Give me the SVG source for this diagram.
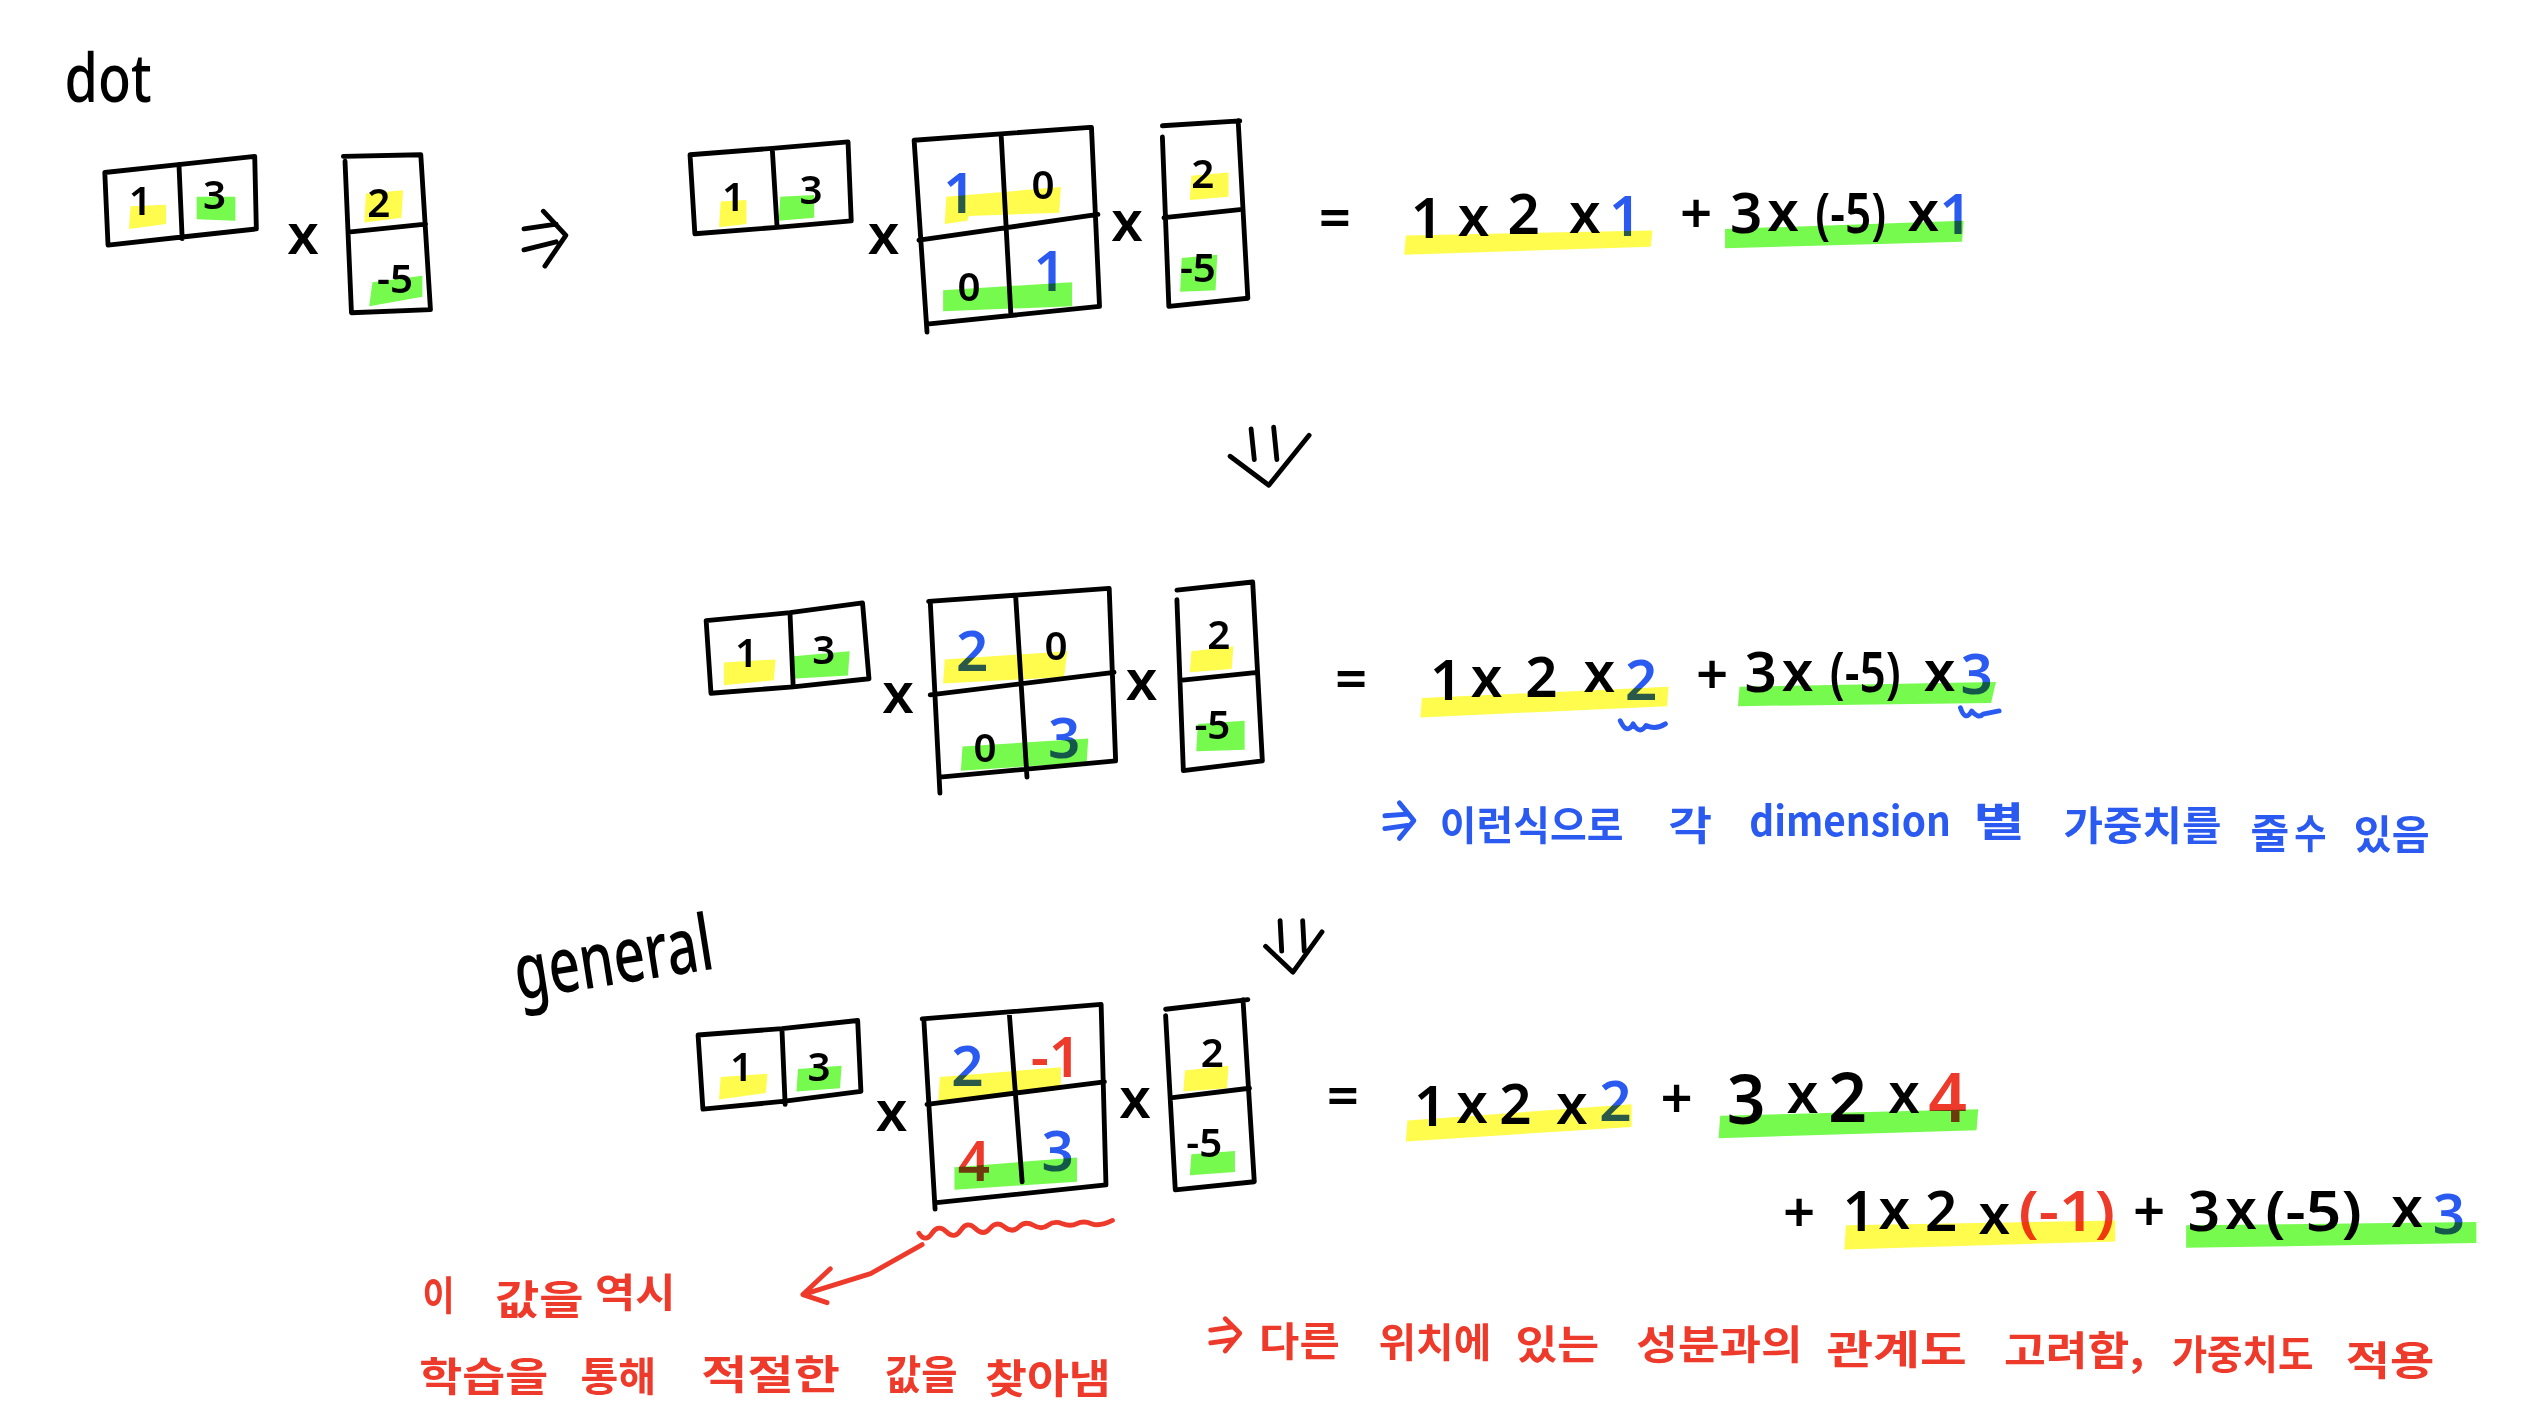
<svg xmlns="http://www.w3.org/2000/svg" width="2528" height="1420" viewBox="0 0 2528 1420">
<style>
.ln{fill:none;stroke:#000;stroke-width:3;stroke-linecap:round;stroke-linejoin:round}
.y{fill:#fffc4d;mix-blend-mode:multiply}
.g{fill:#76fa4d;mix-blend-mode:multiply}
text{font-family:"Noto Sans","Noto Sans CJK KR",sans-serif;text-anchor:middle;dominant-baseline:central;font-weight:600;fill:#000}
.m{font-size:25px}
.e{font-size:35px}
.b{fill:#2a5af0}
.r{fill:#ee3a2a}
.k{font-size:25px;font-weight:700;text-anchor:start;font-family:"Noto Sans CJK KR","Noto Sans",sans-serif}
.arb{fill:none;stroke:#2a5af0;stroke-width:3;stroke-linecap:round;stroke-linejoin:round}
.arr{fill:none;stroke:#ee3a2a;stroke-width:3;stroke-linecap:round;stroke-linejoin:round}
</style>
<rect width="2528" height="1420" fill="#fff"/>
<g transform="scale(1.6122)">
<text id="label-dot" x="67" y="47" textLength="54" lengthAdjust="spacingAndGlyphs" style="font-size:42px;font-weight:500">dot</text>
<text id="label-general" x="380" y="592" transform="rotate(-9 380 592)" textLength="124" lengthAdjust="spacingAndGlyphs" style="font-size:48px;font-weight:500">general</text>

<g id="vec-1">
<path class="ln" d="M65 107L112 102L158 97L159 142L113 147L67 152ZM111 102L113 148"/>
<text class="m" x="87" y="124">1</text><text class="m" x="133" y="120">3</text>
<path class="y" d="M81 128L103 127L103 139L80 142Z"/><path class="g" d="M122 122L146 122L146 137L122 136Z"/>
</g>
<text id="times-1a" class="e" x="188" y="144">x</text>
<g id="col-1">
<path class="ln" d="M213 97L261 96L267 192L218 194L214 100M216 144L264 139"/>
<text class="m" x="235" y="125">2</text><text class="m" x="245" y="172">-5</text>
<path class="y" d="M227 120L250 118L249 135L226 138Z"/><path class="g" d="M231 175L262 171L262 184L229 190Z"/>
</g>

<g id="vec-2">
<path class="ln" d="M428 96L479 92L526 88L528 137L482 141L431 145ZM479 92L482 141"/>
<text class="m" x="455" y="121">1</text><text class="m" x="503" y="117">3</text>
<path class="y" d="M447 125L463 124L463 139L446 141Z"/><path class="g" d="M484 122L505 121L505 135L483 137Z"/>
</g>
<text id="times-2a" class="e" x="548" y="144">x</text>
<g id="mat-2">
<path class="ln" d="M567 87L676 79M677 79L682 190L575 201M567 87L575 206M570 149L681 133M621 84L627 195"/>
<text class="e b" x="595" y="119">1</text><text class="m" x="647" y="114">0</text><text class="m" x="601" y="177">0</text><text class="e b" x="651" y="167">1</text>
<path class="y" d="M587 122L658 116L657 132L601 134L600 137L586 139Z"/><path class="g" d="M585 180L665 175L665 190L585 193Z"/>
</g>
<text id="times-2b" class="e" x="699" y="136">x</text>
<g id="col-2">
<path class="ln" d="M721 78L769 75M721 85L725 190L774 185L768 75M722 135L769 130"/>
<text class="m" x="746" y="107">2</text><text class="m" x="743" y="165">-5</text>
<path class="y" d="M739 109L762 107L762 122L738 124Z"/><path class="g" d="M733 160L755 158L754 180L732 181Z"/>
</g>
<text id="eq-1-equals" class="e" x="828" y="134">=</text>
<g id="eq-1">
<text class="e" x="885" y="134">1</text><text class="e" x="914" y="133">x</text><text class="e" x="945" y="132">2</text><text class="e" x="983" y="131">x</text><text class="e b" x="1008" y="133">1</text>
<text class="e" x="1052" y="131">+</text><text class="e" x="1083" y="131">3</text><text class="e" x="1106" y="130">x</text><text class="e" x="1148" y="131" textLength="44" lengthAdjust="spacingAndGlyphs">(-5)</text><text class="e" x="1193" y="130">x</text><text class="e b" x="1213" y="132">1</text>
<path class="y" d="M872 146L1025 143L1024 153L871 158Z"/><path class="g" d="M1070 142L1218 137L1217 150L1070 154Z"/>
</g>

<g id="vec-3">
<path class="ln" d="M438 385L490 380L535 374L539 421L492 426L441 430ZM490 380L492 426"/>
<text class="m" x="463" y="404">1</text><text class="m" x="511" y="402">3</text>
<path class="y" d="M449 411L481 409L480 422L449 425Z"/><path class="g" d="M492 407L527 404L526 419L491 421Z"/>
</g>
<text id="times-3a" class="e" x="557" y="429">x</text>
<g id="mat-3">
<path class="ln" d="M576 373L688 365M688 365L692 472L583 482M577 373L583 492M577 431L691 417M630 370L637 482"/>
<text class="e b" x="603" y="403">2</text><text class="m" x="655" y="400">0</text><text class="m" x="611" y="463">0</text><text class="e b" x="660" y="457">3</text>
<path class="y" d="M586 409L662 404L660 420L585 424Z"/><path class="g" d="M597 463L675 458L674 473L596 478Z"/>
</g>
<text id="times-3b" class="e" x="708" y="421">x</text>
<g id="col-3">
<path class="ln" d="M730 366L777 361M730 372L734 478L783 472L777 361M732 422L780 417"/>
<text class="m" x="756" y="393">2</text><text class="m" x="752" y="449">-5</text>
<path class="y" d="M739 404L765 401L764 415L738 417Z"/><path class="g" d="M743 449L772 447L772 465L742 466Z"/>
</g>
<text id="eq-2-equals" class="e" x="838" y="420">=</text>
<g id="eq-2">
<text class="e" x="897" y="421">1</text><text class="e" x="922" y="419">x</text><text class="e" x="956" y="419">2</text><text class="e" x="992" y="416">x</text><text class="e b" x="1018" y="421">2</text>
<text class="e" x="1062" y="417">+</text><text class="e" x="1092" y="416">3</text><text class="e" x="1115" y="415">x</text><text class="e" x="1157" y="416" textLength="44" lengthAdjust="spacingAndGlyphs">(-5)</text><text class="e" x="1203" y="415">x</text><text class="e b" x="1226" y="417">3</text>
<path class="y" d="M882 433L1035 426L1034 438L881 445Z"/><path class="g" d="M1079 426L1238 423L1235 436L1078 438Z"/>
<path class="arb" d="M1005 447Q1009 456 1013 449Q1017 456 1021 450Q1027 453 1033 449M1216 439Q1219 448 1223 441Q1227 446 1230 443L1240 441"/>
</g>
<g id="note-blue">
<path class="arb" d="M859 506L873 505M859 514L873 512M868 498L877 509L868 520"/>
<text class="k b" x="893" y="510" textLength="114" lengthAdjust="spacingAndGlyphs">이런식으로</text>
<text class="k b" x="1035" y="510" textLength="27" lengthAdjust="spacingAndGlyphs">각</text>
<text class="k b" x="1085" y="508" textLength="125" lengthAdjust="spacingAndGlyphs">dimension</text>
<text class="k b" x="1224" y="508" textLength="32" lengthAdjust="spacingAndGlyphs">별</text>
<text class="k b" x="1280" y="510" textLength="98" lengthAdjust="spacingAndGlyphs">가중치를</text>
<text class="k b" x="1396" y="515" textLength="24" lengthAdjust="spacingAndGlyphs">줄</text>
<text class="k b" x="1423" y="515" textLength="20" lengthAdjust="spacingAndGlyphs">수</text>
<text class="k b" x="1460" y="516" textLength="47" lengthAdjust="spacingAndGlyphs">있음</text>
</g>

<g id="vec-4">
<path class="ln" d="M433 642L485 638L532 633L534 677L487 683L436 688ZM485 638L487 685"/>
<text class="m" x="460" y="661">1</text><text class="m" x="508" y="661">3</text>
<path class="y" d="M447 668L476 666L475 678L446 682Z"/><path class="g" d="M495 663L522 661L521 675L494 677Z"/>
</g>
<text id="times-4a" class="e" x="553" y="688">x</text>
<g id="mat-4">
<path class="ln" d="M572 632L683 623M683 623L686 735L581 746M573 632L580 750M575 685L685 671M626 628L634 733"/>
<text class="e b" x="600" y="660">2</text><text class="e r" x="655" y="655">-1</text><text class="e r" x="604" y="719">4</text><text class="e b" x="656" y="713">3</text>
<path class="y" d="M583 668L658 662L658 676L582 684Z"/><path class="g" d="M592 724L668 718L668 733L592 738Z"/>
</g>
<text id="times-4b" class="e" x="704" y="680">x</text>
<g id="col-4">
<path class="ln" d="M723 626L774 620M723 630L729 738L778 733L771 620M726 681L775 675"/>
<text class="m" x="752" y="652">2</text><text class="m" x="747" y="708">-5</text>
<path class="y" d="M735 664L762 661L761 675L734 677Z"/><path class="g" d="M739 716L766 714L766 727L738 729Z"/>
</g>
<text id="eq-3-equals" class="e" x="833" y="679">=</text>
<g id="eq-3">
<text class="e" x="887" y="685">1</text><text class="e" x="913" y="683">x</text><text class="e" x="940" y="684">2</text><text class="e" x="975" y="684">x</text><text class="e b" x="1002" y="682">2</text>
<text class="e" x="1040" y="680">+</text><text class="e" x="1083" y="681" style="font-size:42px">3</text><text class="e" x="1118" y="677">x</text><text class="e" x="1146" y="680" style="font-size:42px">2</text><text class="e" x="1181" y="677">x</text><text class="e r" x="1208" y="680" style="font-size:42px">4</text>
<path class="y" d="M873 695L1012 685L1012 699L872 708Z"/><path class="g" d="M1067 692L1227 688L1226 701L1066 706Z"/>
</g>
<g id="eq-4">
<text class="e" x="1116" y="751">+</text><text class="e" x="1153" y="750">1</text><text class="e" x="1175" y="749">x</text><text class="e" x="1204" y="750">2</text><text class="e" x="1237" y="752">x</text><text class="e r" x="1282" y="750" textLength="60" lengthAdjust="spacingAndGlyphs">(-1)</text>
<text class="e" x="1333" y="750">+</text><text class="e" x="1367" y="750">3</text><text class="e" x="1390" y="749">x</text><text class="e" x="1435" y="750" textLength="60" lengthAdjust="spacingAndGlyphs">(-5)</text><text class="e" x="1493" y="748">x</text><text class="e b" x="1519" y="752">3</text>
<path class="y" d="M1145 760L1312 757L1312 770L1144 775Z"/><path class="g" d="M1356 760L1536 758L1536 771L1356 774Z"/>
</g>
<g id="note-red-left">
<text class="k r" x="262" y="802" textLength="20" lengthAdjust="spacingAndGlyphs">이</text>
<text class="k r" x="307" y="804" textLength="55" lengthAdjust="spacingAndGlyphs">값을</text>
<text class="k r" x="369" y="800" textLength="50" lengthAdjust="spacingAndGlyphs">역시</text>
<text class="k r" x="260" y="852" textLength="80" lengthAdjust="spacingAndGlyphs">학습을</text>
<text class="k r" x="360" y="852" textLength="47" lengthAdjust="spacingAndGlyphs">통해</text>
<text class="k r" x="435" y="851" textLength="86" lengthAdjust="spacingAndGlyphs">적절한</text>
<text class="k r" x="549" y="851" textLength="45" lengthAdjust="spacingAndGlyphs">값을</text>
<text class="k r" x="611" y="853" textLength="78" lengthAdjust="spacingAndGlyphs">찾아냄</text>
</g>
<g id="note-red-right">
<path class="arr" d="M751 825L765 823M751 833L765 831M760 818L769 827L760 838"/>
<text class="k r" x="781" y="830" textLength="50" lengthAdjust="spacingAndGlyphs">다른</text>
<text class="k r" x="855" y="831" textLength="70" lengthAdjust="spacingAndGlyphs">위치에</text>
<text class="k r" x="940" y="832" textLength="52" lengthAdjust="spacingAndGlyphs">있는</text>
<text class="k r" x="1015" y="832" textLength="103" lengthAdjust="spacingAndGlyphs">성분과의</text>
<text class="k r" x="1133" y="835" textLength="87" lengthAdjust="spacingAndGlyphs">관계도</text>
<text class="k r" x="1243" y="836" textLength="87" lengthAdjust="spacingAndGlyphs">고려함,</text>
<text class="k r" x="1347" y="838" textLength="88" lengthAdjust="spacingAndGlyphs">가중치도</text>
<text class="k r" x="1455" y="842" textLength="55" lengthAdjust="spacingAndGlyphs">적용</text>
</g>
<g id="connectors">
<path class="ln" d="M325 142L345 139M325 155L345 150M337 131L351 146L338 165"/>
<path class="ln" d="M776 266L778 285M790 265L792 285M763 283L787 301L812 270"/>
<path class="ln" d="M794 571L795 590M808 571L809 590M785 587L802 603L820 578"/>
<path class="arr" d="M570 765Q574 771 578 765T587 764T596 763T605 762T614 762T623 761T632 761T641 760T650 760T659 759T668 759T677 759T690 757"/>
<path class="arr" d="M572 772L540 790L498 803M515 787L498 803L513 808"/>
</g>
</g>
</svg>
